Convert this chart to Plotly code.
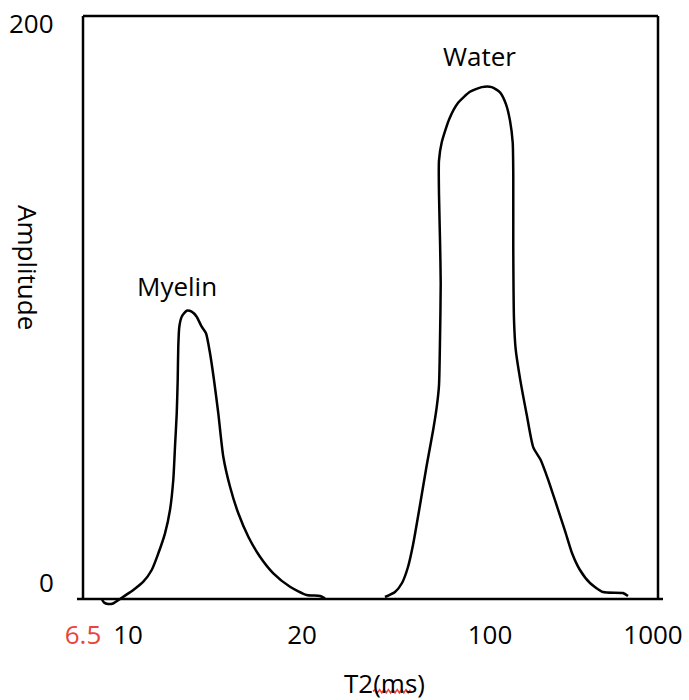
import plotly.graph_objects as go

# Position along the (schematic, non-uniform) T2 axis, 0-100 = left to right of the frame
t2_tick_pos = [0, 7.83, 38.09, 70.78, 99.13]
t2_tick_labels = ["6.5", "10", "20", "100", "1000"]

myelin_pos = [3.30, 3.65, 4.35, 5.22, 5.91, 7.01, 8.75, 10.49, 11.95, 13.10, 14.26, 15.13,
              15.70, 16.00, 16.30, 16.47, 16.57, 16.75, 17.17, 18.03, 18.90, 19.77, 20.64,
              21.39, 22.09, 22.78, 23.53, 24.40, 25.57, 27.01, 28.75, 30.78, 33.10, 36.00,
              38.90, 41.22, 42.09]
myelin_amp = [-0.17, -1.2, -1.72, -1.54, -0.69, 0.79, 3.09, 5.93, 9.95, 15.68, 22.54, 30.53,
              40.82, 52.25, 63.7, 75.13, 86.55, 93.41, 96.84, 98.9, 98.56, 96.84, 93.41,
              91.15, 84.29, 75.13, 63.7, 48.82, 38.52, 29.4, 21.37, 14.51, 8.82, 4.22,
              1.37, 1.03, 0.24]

water_pos = [52.52, 54.26, 55.48, 56.52, 57.39, 58.61, 59.77, 60.92, 61.51, 61.91, 62.09,
             62.21, 62.09, 61.91, 61.91, 62.38, 63.70, 65.27, 67.30, 69.34, 71.08, 72.52,
             73.57, 74.26, 74.73, 74.83, 74.83, 74.96, 75.25, 76.00, 77.17, 78.31, 79.60,
             80.92, 82.38, 83.83, 85.04, 86.43, 88.17, 90.43, 93.91, 94.78]
water_amp = [0.69, 2.4, 5.49, 10.98, 18.52, 32.25, 45.8, 58.25, 65.73, 73.21, 89.37,
             108.06, 122.98, 139.18, 150.4, 156.6, 164.7, 170.3, 174.0, 175.6, 175.6, 173.8,
             169.7, 164.1, 156.6, 145.4, 120.5, 95.6, 85.6, 75.7, 63.2, 52.0, 47.7,
             40.8, 32.1, 23.4, 15.8, 9.95, 5.49, 2.4, 2.06, 1.03]

amp_ticks = [0, 200]
peak_labels = ["Myelin", "Water"]
peak_label_pos = [16.35, 69.0]
peak_label_amp = [107.5, 186.2]

FONT = "Open Sans"
FS = 26
RED = "#e8443a"
Y_MIN, Y_MAX = -2.4, 200

fig = go.Figure()
for xs, ys, name in [(myelin_pos, myelin_amp, "Myelin"), (water_pos, water_amp, "Water")]:
    fig.add_trace(go.Scatter(x=xs, y=ys, mode="lines", name=name,
                             line=dict(color="black", width=2.5, shape="spline", smoothing=0.6),
                             showlegend=False, hoverinfo="skip"))

ticktext = [f'<span style="color:{RED}">{t}</span>' if i == 0 else t
            for i, t in enumerate(t2_tick_labels)]

fig.update_layout(
    width=689, height=700,
    margin=dict(l=83, r=31, t=16, b=94, autoexpand=False),
    paper_bgcolor="white", plot_bgcolor="white",
    font=dict(family=FONT, size=FS, color="black"),
    xaxis=dict(range=[0, 100], showgrid=False, zeroline=False, showline=False,
               tickmode="array", tickvals=t2_tick_pos, ticktext=ticktext,
               ticks="", ticklabelstandoff=11, tickfont=dict(family=FONT, size=FS),
               automargin=False),
    yaxis=dict(range=[Y_MIN, Y_MAX], showgrid=False, zeroline=False, showline=False,
               showticklabels=False, ticks="", automargin=False),
)

y0p = (0 - Y_MIN) / (Y_MAX - Y_MIN)
line = dict(color="black", width=2.5)
# frame
fig.add_shape(type="line", xref="paper", yref="paper", x0=0, x1=0, y0=y0p, y1=1, line=line)
fig.add_shape(type="line", xref="paper", yref="paper", x0=0, x1=1, y0=1, y1=1, line=line)
fig.add_shape(type="line", xref="paper", yref="paper", x0=1, x1=1, y0=y0p, y1=1, line=line)
fig.add_shape(type="line", xref="paper", yref="paper", x0=-6 / 575, x1=1 + 5 / 575,
              y0=y0p, y1=y0p, line=line)

# y tick labels
fig.add_annotation(text="200", x=-0.0904, xref="paper", y=200, yref="y", yshift=-7,
                   showarrow=False, xanchor="center", yanchor="middle")
fig.add_annotation(text="0", x=-0.0643, xref="paper", y=0, yref="y", yshift=17,
                   showarrow=False, xanchor="center", yanchor="middle")

# peak labels
for t, px, py in zip(peak_labels, peak_label_pos, peak_label_amp):
    fig.add_annotation(text=t, x=px, y=py, xref="x", yref="y", showarrow=False,
                       xanchor="center", yanchor="middle")

# axis titles
fig.add_annotation(text="Amplitude", x=-0.0957, y=0.5729, xref="paper", yref="paper",
                   textangle=90, showarrow=False, xanchor="center", yanchor="middle")
fig.add_annotation(text="T2(ms)", x=0.525, y=-0.1305, xref="paper", yref="paper",
                   showarrow=False, xanchor="center", yanchor="middle")

# red wavy spell-check underline under "ms"
x_start, x_end, yline = (373 - 83) / 575, (410 - 83) / 575, -0.1445
dx, dy = 2.2 / 575, 1.6 / 590
path = f"M {x_start} {yline}"
x = x_start
k = 0
while x < x_end:
    x += dx
    k += 1
    path += f" L {x} {yline + (dy if k % 2 else -dy)}"
fig.add_shape(type="path", xref="paper", yref="paper", path=path,
              line=dict(color=RED, width=1.6))

fig.write_html("out.html",
               config={"displayModeBar": False},
               post_script="document.body.style.margin='0';document.body.style.overflow='hidden';")
